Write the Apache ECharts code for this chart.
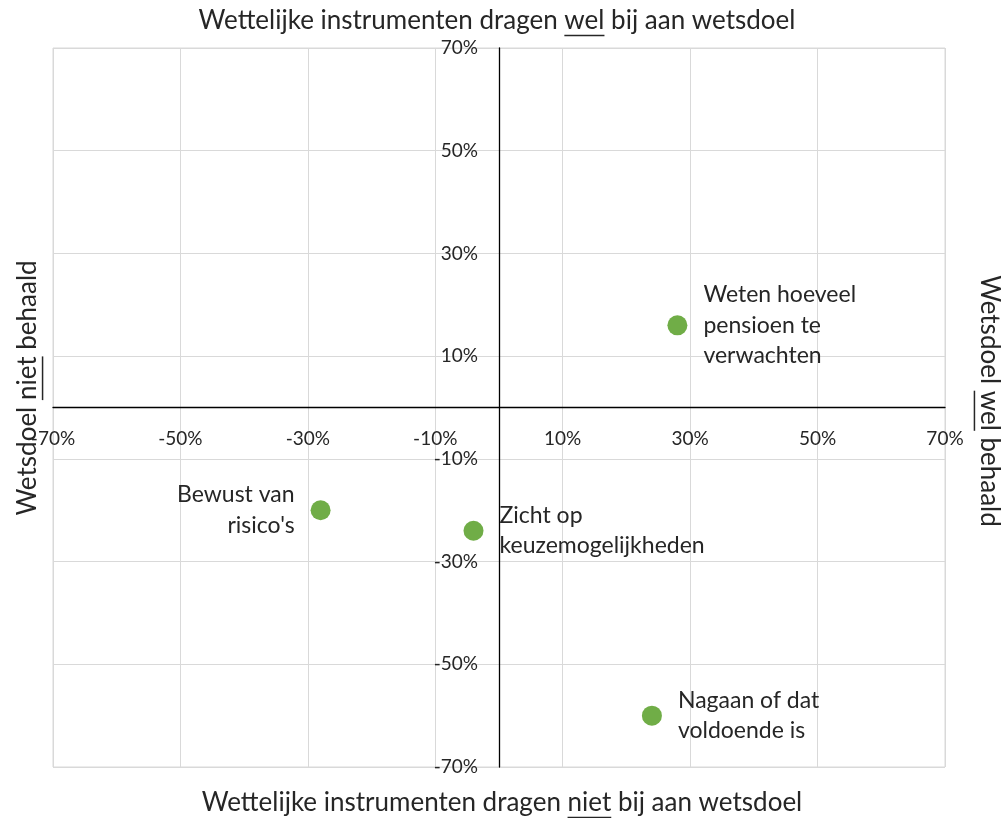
<!DOCTYPE html>
<html><head><meta charset="utf-8">
<script src="https://cdn.jsdelivr.net/npm/echarts@6/dist/echarts.min.js"></script>
<style>html,body{margin:0;padding:0;background:#fff}#c{width:1005px;height:818px}</style>
</head><body><div id="c"></div>
<script>
// Data
const names = ['Weten hoeveel\npensioen te\nverwachten', "Bewust van\nrisico's", 'Zicht op\nkeuzemogelijkheden', 'Nagaan of dat\nvoldoende is'];
const xValues = [28, -28, -4, 24];
const yValues = [16, -20, -24, -60];
const labelSide = ['right', 'left', 'right', 'right'];
const axisMin = -70, axisMax = 70, axisStep = 20;
const titleTop = ['Wettelijke instrumenten dragen ', 'wel', ' bij aan wetsdoel'];
const titleBottom = ['Wettelijke instrumenten dragen ', 'niet', ' bij aan wetsdoel'];
const titleLeft = ['Wetsdoel ', 'niet', ' behaald'];
const titleRight = ['Wetsdoel ', 'wel', ' behaald'];

const FONT = 'Lato';
const TXT = '#262626';
const cv = document.createElement('canvas').getContext('2d');
function w(s, fs){ cv.font = fs + 'px ' + FONT; return cv.measureText(s).width; }
function makeTitle(parts, cx, cy, rot, fs){
  const w0 = w(parts[0], fs), w1 = w(parts[1], fs), tot = w(parts.join(''), fs);
  const x0 = -tot/2;
  return {type:'group', x:cx, y:cy, rotation:rot, silent:true, children:[
    {type:'text', x:x0, y:0, style:{text:parts.join(''), font: fs+'px '+FONT, fill:TXT, textVerticalAlign:'middle', textAlign:'left'}},
    {type:'line', shape:{x1:x0+w0, y1:fs*0.56, x2:x0+w0+w1, y2:fs*0.56}, style:{stroke:TXT, lineWidth:1.5}}
  ]};
}

const pts = names.map((n,i)=>({
  name:n, value:[xValues[i], yValues[i]],
  label:{position:labelSide[i], align: labelSide[i]==='left'?'right':'left'}
}));

const W = 1005, H = 818, GL = 53, GR = 60, GT = 48, GB = 51;
const gw = W - GL - GR, gh = H - GT - GB;
const zeroFracX = (0 - axisMin) / (axisMax - axisMin);
const zeroFracY = (0 - axisMin) / (axisMax - axisMin);

const chart = echarts.init(document.getElementById('c'));
const axisCommon = {
  type:'value', min:axisMin, max:axisMax, interval:axisStep,
  axisLine:{onZero:false, lineStyle:{color:'#000', width:1.3}},
  axisTick:{show:false},
  splitLine:{show:true, lineStyle:{color:'#d9d9d9', width:1}},
  axisLabel:{formatter:'{value}%', color:TXT, fontFamily:FONT, fontSize:19, showMinLabel:true, showMaxLabel:true}
};
chart.setOption({
  animation:false,
  grid:{left:GL, right:GR, top:GT, bottom:GB, containLabel:false, outerBoundsMode:'none', show:true, borderColor:'#d9d9d9', borderWidth:1},
  xAxis:Object.assign({}, axisCommon, {position:'bottom', offset:-gh*zeroFracY, axisLabel:Object.assign({}, axisCommon.axisLabel, {margin:22})}),
  yAxis:Object.assign({}, axisCommon, {position:'left', offset:-gw*zeroFracX, axisLabel:Object.assign({}, axisCommon.axisLabel, {margin:21})}),
  series:[{
    type:'scatter', symbol:'circle', symbolSize:20,
    itemStyle:{color:'#70ad47', opacity:1},
    label:{show:true, formatter:'{b}', color:TXT, fontFamily:FONT, fontSize:23, lineHeight:30.5, distance:16},
    data:pts
  }],
  graphic: [
    makeTitle(titleTop, 497, 21, 0, 26),
    makeTitle(titleBottom, 502, 803, 0, 26),
    makeTitle(titleLeft, 28, 388, Math.PI/2, 26),
    makeTitle(titleRight, 989, 401, -Math.PI/2, 26)
  ]
});
setTimeout(function(){
  // diagnostics only: no-op
}, 0);
</script></body></html>
